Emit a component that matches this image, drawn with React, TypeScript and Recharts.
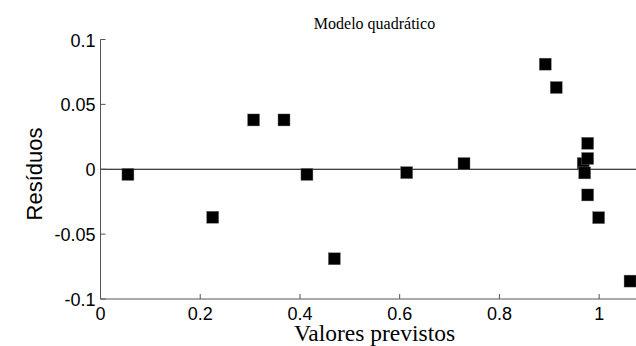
import { ScatterChart, Scatter, XAxis, YAxis, ReferenceLine } from 'recharts'

const predicted = [0.055, 0.225, 0.307, 0.368, 0.414, 0.469, 0.614, 0.729, 0.892, 0.914, 0.968, 0.977, 0.977, 0.971, 0.977, 0.999, 1.062]
const residuals = [-0.004, -0.037, 0.038, 0.038, -0.004, -0.069, -0.0026, 0.0044, 0.081, 0.063, 0.0044, 0.02, 0.0083, -0.0028, -0.0198, -0.0373, -0.0862]
const xTicks = [0, 0.2, 0.4, 0.6, 0.8, 1]
const yTicks = [-0.1, -0.05, 0, 0.05, 0.1]
const yTickLabels = ['-0.1', '-0.05', '0', '0.05', '0.1']

const points = predicted.map((x, i) => ({ x, y: residuals[i] }))

const AXIS = '#555'
const SANS = '"Liberation Sans", Arial, sans-serif'
const SERIF = '"Liberation Serif", "Times New Roman", serif'

function BottomTick(props: any) {
  const { x, y, payload } = props
  return (
    <g>
      <line x1={x} x2={x} y1={y} y2={y - 5} stroke={AXIS} strokeWidth={1} />
      <text x={x} y={y + 21} textAnchor="middle" fontFamily={SANS} fontSize={18} fill="#000">
        {String(payload.value)}
      </text>
    </g>
  )
}

function TopTick(props: any) {
  const { x, y } = props
  return <line x1={x} x2={x} y1={y} y2={y + 5} stroke={AXIS} strokeWidth={1} />
}

function LeftTick(props: any) {
  const { x, y, payload, index } = props
  return (
    <g>
      <line x1={x} x2={x + 5} y1={y} y2={y} stroke={AXIS} strokeWidth={1} />
      <text x={x - 5} y={y + 7} textAnchor="end" fontFamily={SANS} fontSize={18} fill="#000">
        {yTickLabels[index] ?? String(payload.value)}
      </text>
    </g>
  )
}

function Square(props: any) {
  const { cx, cy } = props
  return <rect x={cx - 6} y={cy - 6} width={12} height={12} fill="#000" stroke="#777" strokeWidth={0.4} />
}

export default function App() {
  return (
    <div style={{ position: 'absolute', left: 0, top: 0, width: 636, height: 346, overflow: 'hidden', background: '#fff' }}>
      <ScatterChart width={660} height={346} margin={{ top: 39.5, right: 11, bottom: 0, left: 0 }}>
        <XAxis
          xAxisId="top"
          orientation="top"
          type="number"
          dataKey="x"
          domain={[0, 1.1]}
          ticks={xTicks}
          interval={0}
          height={0}
          tickSize={0}
          tickMargin={0}
          tickLine={false}
          tick={<TopTick />}
          axisLine={{ stroke: AXIS }}
          allowDataOverflow
        />
        <XAxis
          type="number"
          dataKey="x"
          domain={[0, 1.1]}
          ticks={xTicks}
          interval={0}
          height={47}
          tickSize={0}
          tickMargin={0}
          tickLine={false}
          tick={<BottomTick />}
          axisLine={{ stroke: AXIS }}
          allowDataOverflow
        />
        <YAxis
          type="number"
          dataKey="y"
          domain={[-0.1, 0.1]}
          ticks={yTicks}
          interval={0}
          width={100.5}
          tickSize={0}
          tickMargin={0}
          tickLine={false}
          tick={<LeftTick />}
          axisLine={{ stroke: AXIS }}
          allowDataOverflow
        />
        <ReferenceLine y={0} stroke="#000" strokeWidth={1} />
        <Scatter data={points} shape={<Square />} isAnimationActive={false} />
      </ScatterChart>
      <svg width={636} height={346} style={{ position: 'absolute', left: 0, top: 0, pointerEvents: 'none' }}>
        <text x={374.5} y={29} textAnchor="middle" fontFamily={SERIF} fontSize={16} fill="#000">
          Modelo quadrático
        </text>
        <text x={374.5} y={341} textAnchor="middle" fontFamily={SERIF} fontSize={23.5} fill="#000">
          Valores previstos
        </text>
        <text
          x={0}
          y={0}
          transform="translate(42,174) rotate(-90)"
          textAnchor="middle"
          fontFamily={SANS}
          fontSize={22}
          fill="#000"
        >
          Resíduos
        </text>
      </svg>
    </div>
  )
}
